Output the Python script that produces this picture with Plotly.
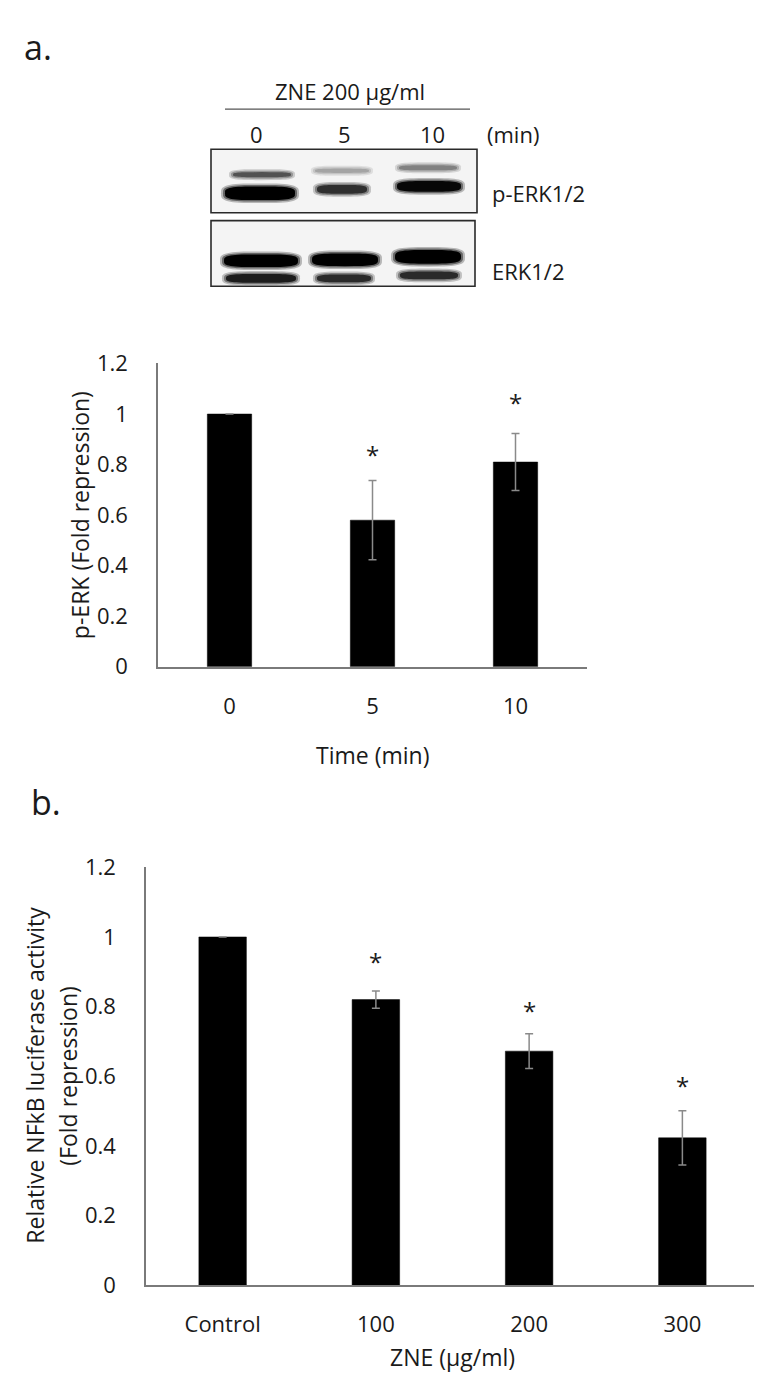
import plotly.graph_objects as go
import numpy as np

# ---------------- data ----------------
time_labels = ["0", "5", "10"]
perk_mean = [1.0, 0.58, 0.81]
perk_err = [0.0, 0.157, 0.113]
perk_star = [None, 0.86, 1.066]

zne_labels = ["Control", "100", "200", "300"]
nfkb_mean = [1.0, 0.82, 0.672, 0.423]
nfkb_err = [0.0, 0.025, 0.05, 0.078]
nfkb_star = [None, 0.945, 0.804, 0.587]

# western blot band intensities (0..1) per lane
blot_lanes = ["0", "5", "10"]
perk_upper_band = [0.65, 0.3, 0.45]
perk_lower_band = [1.0, 0.8, 0.97]
erk_upper_band = [1.0, 1.0, 1.0]
erk_lower_band = [0.88, 0.82, 0.82]

W, H = 762, 1385
FONT = "Open Sans"


def fx(px):
    return px / W


def fy(py):
    return 1 - py / H


fig = go.Figure()

# ---------------- panel a bars ----------------
fig.add_trace(go.Bar(
    x=list(range(len(time_labels))), y=perk_mean, width=0.31,
    marker=dict(color="black", line=dict(color="black", width=0.5)),
    error_y=dict(type="data", array=perk_err, color="#8a8a8a", thickness=1.5, width=4),
    xaxis="x", yaxis="y", showlegend=False, hoverinfo="skip"))

# ---------------- panel b bars ----------------
fig.add_trace(go.Bar(
    x=list(range(len(zne_labels))), y=nfkb_mean, width=0.31,
    marker=dict(color="black", line=dict(color="black", width=0.5)),
    error_y=dict(type="data", array=nfkb_err, color="#8a8a8a", thickness=1.5, width=4),
    xaxis="x2", yaxis="y2", showlegend=False, hoverinfo="skip"))

axis_line = "#7a7a7a"
tickfont = dict(family=FONT, size=22, color="#1a1a1a")

fig.update_layout(
    width=W, height=H,
    margin=dict(l=0, r=0, t=0, b=0),
    paper_bgcolor="white", plot_bgcolor="white",
    font=dict(family=FONT, color="#1a1a1a"),
    xaxis=dict(domain=[fx(150), fx(579)], range=[-0.5, 2.5],
               tickvals=list(range(len(time_labels))), ticktext=time_labels,
               showline=True, linecolor=axis_line, linewidth=1.5, showgrid=False,
               ticks="", tickfont=tickfont, ticklabelstandoff=19, anchor="y",
               zeroline=False),
    yaxis=dict(domain=[fy(657), fy(347)], range=[0, 1.2], dtick=0.2,
               showline=True, linecolor=axis_line, linewidth=1.5, showgrid=False,
               ticks="", tickfont=tickfont, ticklabelstandoff=24, anchor="x",
               zeroline=False),
    xaxis2=dict(domain=[fx(138), fx(751)], range=[-0.5, 3.5],
                tickvals=list(range(len(zne_labels))), ticktext=zne_labels,
                showline=True, linecolor=axis_line, linewidth=1.5, showgrid=False,
                ticks="", tickfont=tickfont, ticklabelstandoff=19, anchor="y2",
                zeroline=False),
    yaxis2=dict(domain=[fy(1289), fy(862)], range=[0, 1.2], dtick=0.2,
                showline=True, linecolor=axis_line, linewidth=1.5, showgrid=False,
                ticks="", tickfont=tickfont, ticklabelstandoff=24, anchor="x2",
                zeroline=False),
)

annotations = []
shapes = []


def text(s, px, py, size=22, xanchor="center", angle=0):
    annotations.append(dict(text=s, x=fx(px), y=fy(py), xref="paper", yref="paper",
                            xanchor=xanchor, yanchor="middle", showarrow=False,
                            textangle=angle, font=dict(family=FONT, size=size, color="#1a1a1a")))


# significance asterisks
for i, v in enumerate(perk_star):
    if v is not None:
        annotations.append(dict(text="*", x=i, y=v, xref="x", yref="y", showarrow=False,
                                yshift=-5, font=dict(family=FONT, size=24, color="#1a1a1a")))
for i, v in enumerate(nfkb_star):
    if v is not None:
        annotations.append(dict(text="*", x=i, y=v, xref="x2", yref="y2", showarrow=False,
                                yshift=-5, font=dict(family=FONT, size=24, color="#1a1a1a")))

# axis titles
text("p-ERK (Fold repression)", 72, 502, size=23, angle=-90)
text("Time (min)", 364, 747, size=23)
text("Relative NFkB luciferase activity", 27, 1075, size=23, angle=-90)
text("(Fold repression)", 60, 1075, size=23, angle=-90)
text("ZNE (µg/ml)", 444, 1363, size=23)

# panel labels
text("a.", 14, 24, size=34, xanchor="left")
text("b.", 21, 795, size=34, xanchor="left")

# ---------------- western blot ----------------
text("ZNE 200 µg/ml", 342, 68, size=22)
shapes.append(dict(type="line", xref="paper", yref="paper", x0=fx(217), x1=fx(462),
                   y0=fy(87), y1=fy(87), line=dict(color="#555555", width=1.2)))
lane_x = [249, 336, 424]
for lab, lx in zip(blot_lanes, lane_x):
    text(lab, lx, 112, size=22)
text("(min)", 477, 112, size=22, xanchor="left")
text("p-ERK1/2", 482, 173, size=22, xanchor="left")
text("ERK1/2", 482, 252, size=22, xanchor="left")

# boxes
for (x0, x1, y0, y1) in [(203, 469, 128, 193), (203, 467, 201, 268)]:
    shapes.append(dict(type="rect", xref="paper", yref="paper",
                       x0=fx(x0), x1=fx(x1), y0=fy(y1), y1=fy(y0),
                       fillcolor="#f4f4f4", line=dict(color="#2a2a2a", width=1.6),
                       layer="below"))


def band_path(cx, cy, half_w, half_h, n=3.5, m=56):
    t = np.linspace(0, 2 * np.pi, m, endpoint=False)
    c, s = np.cos(t), np.sin(t)
    xs = cx + half_w * np.sign(c) * np.abs(c) ** (2 / n)
    ys = cy + half_h * np.sign(s) * np.abs(s) ** (2 / n)
    pts = [f"{fx(a):.5f},{fy(b):.5f}" for a, b in zip(xs, ys)]
    return "M " + " L ".join(pts) + " Z"


def band_color(v):
    g = int(round(235 * (1 - v)))
    return f"rgb({g},{g},{g})"


# geometry per row: (intensities, lane centres, half widths, y centres, half heights)
rows = [
    (perk_upper_band, [254, 334, 420], [29, 27, 29], [154, 150, 147], [2.6, 2.2, 2.6]),
    (perk_lower_band, [252, 334, 421], [35, 25, 32], [173, 169, 166], [7.0, 4.5, 5.5]),
    (erk_upper_band, [253, 337, 420], [37, 33, 33], [242, 241, 238], [6.5, 6.5, 7.0]),
    (erk_lower_band, [253, 336, 421], [35, 27, 29], [260, 260, 257], [4.5, 4.0, 4.0]),
]
for vals, cxs, hws, cys, hhs in rows:
    for v, cx, hw, cy, hh in zip(vals, cxs, hws, cys, hhs):
        # soft halo to mimic blur of the film
        shapes.append(dict(type="path", xref="paper", yref="paper",
                           path=band_path(cx, cy, hw + 4, hh + 3),
                           fillcolor=band_color(v * 0.55), opacity=0.45,
                           line=dict(width=0), layer="above"))
        shapes.append(dict(type="path", xref="paper", yref="paper",
                           path=band_path(cx, cy, hw + 2, hh + 1.5),
                           fillcolor=band_color(v * 0.8), opacity=0.6,
                           line=dict(width=0), layer="above"))
        shapes.append(dict(type="path", xref="paper", yref="paper",
                           path=band_path(cx, cy, hw, hh),
                           fillcolor=band_color(v), line=dict(width=0), layer="above"))

fig.update_layout(annotations=annotations, shapes=shapes)

fig.write_html("out.html")
